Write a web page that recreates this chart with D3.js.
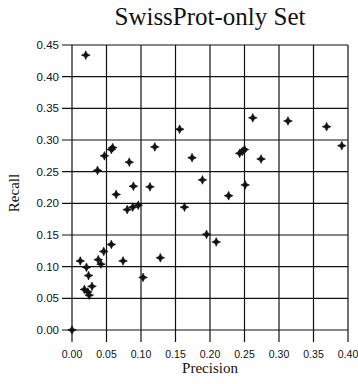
<!DOCTYPE html>
<html><head><meta charset="utf-8">
<script src="https://cdn.jsdelivr.net/npm/d3@7"></script>
<style>body{margin:0;background:#fff}svg{display:block}</style>
</head><body>
<script>
const title = "SwissProt-only Set";
const xLabel = "Precision";
const yLabel = "Recall";
const xTicks = [0,0.05,0.10,0.15,0.20,0.25,0.30,0.35,0.40];
const yTicks = [0,0.05,0.10,0.15,0.20,0.25,0.30,0.35,0.40,0.45];
const precision = [0.000,0.020,0.012,0.021,0.024,0.029,0.018,0.023,0.025,0.038,0.042,0.046,0.057,0.074,0.103,0.128,0.080,0.088,0.096,0.163,0.064,0.089,0.113,0.037,0.083,0.047,0.057,0.059,0.120,0.156,0.174,0.189,0.195,0.209,0.227,0.251,0.243,0.250,0.247,0.274,0.262,0.313,0.369,0.391];
const recall    = [0.000,0.434,0.109,0.099,0.086,0.069,0.064,0.060,0.055,0.111,0.104,0.124,0.135,0.109,0.083,0.114,0.190,0.194,0.197,0.194,0.214,0.227,0.226,0.252,0.265,0.275,0.285,0.288,0.289,0.317,0.272,0.237,0.151,0.139,0.212,0.229,0.279,0.285,0.282,0.270,0.335,0.330,0.321,0.291];

const W = 358, H = 384;
const svg = d3.select("body").append("svg").attr("width", W).attr("height", H);
const x = d3.scaleLinear().domain([0,0.40]).range([72,348]);
const y = d3.scaleLinear().domain([0,0.45]).range([330,45]);

// grid + ticks
const g = svg.append("g").attr("stroke","#111").attr("stroke-width",1.2);
g.selectAll(".vx").data(xTicks).join("line")
  .attr("x1",d=>x(d)).attr("x2",d=>x(d)).attr("y1",y(0.45)).attr("y2",y(0)+12);
g.selectAll(".hy").data(yTicks).join("line")
  .attr("y1",d=>y(d)).attr("y2",d=>y(d)).attr("x1",x(0)-10).attr("x2",x(0.40));

// tick labels
svg.append("g").selectAll("text").data(xTicks).join("text")
  .attr("x",d=>x(d)).attr("y",y(0)+28).attr("text-anchor","middle")
  .attr("font-family","Liberation Sans, Arial, sans-serif").attr("font-size",10.5).attr("fill","#111")
  .text(d=>d3.format(".2f")(d));
svg.append("g").selectAll("text").data(yTicks).join("text")
  .attr("x",x(0)-13).attr("y",d=>y(d)).attr("dy","0.35em").attr("text-anchor","end")
  .attr("font-family","Liberation Sans, Arial, sans-serif").attr("font-size",11.5).attr("fill","#111")
  .text(d=>d3.format(".2f")(d));

// points: four-pointed star
const star = {draw(ctx, size){const r=Math.sqrt(size)/2*1.3, w=r*0.32;
  ctx.moveTo(0,-r);ctx.lineTo(w,-w);ctx.lineTo(r,0);ctx.lineTo(w,w);ctx.lineTo(0,r);ctx.lineTo(-w,w);ctx.lineTo(-r,0);ctx.lineTo(-w,-w);ctx.closePath();}};
const pts = precision.map((p,i)=>({p, r: recall[i]}));
svg.append("g").selectAll("path").data(pts).join("path")
  .attr("transform",d=>`translate(${x(d.p)},${y(d.r)})`)
  .attr("d", d3.symbol().type(star).size(45))
  .attr("fill","#111").attr("stroke","#111").attr("stroke-width",0.6);

// titles
svg.append("text").attr("x",210).attr("y",25).attr("text-anchor","middle")
  .attr("font-family","Liberation Serif, Times New Roman, serif").attr("font-size",25).attr("fill","#111").text(title);
svg.append("text").attr("x",x(0.20)).attr("y",373).attr("text-anchor","middle")
  .attr("font-family","Liberation Serif, Times New Roman, serif").attr("font-size",15).attr("fill","#111").text(xLabel);
svg.append("text").attr("transform","translate(19,193) rotate(-90)").attr("text-anchor","middle")
  .attr("font-family","Liberation Serif, Times New Roman, serif").attr("font-size",15).attr("fill","#111").text(yLabel);
</script>
</body></html>
